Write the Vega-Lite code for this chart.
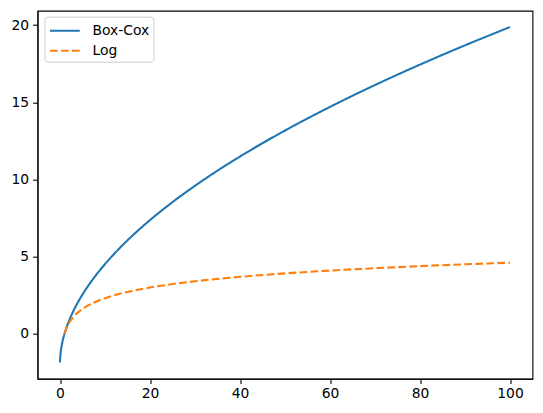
{
  "$schema": "https://vega.github.io/schema/vega-lite/v6.json",
  "autosize": {"type": "none"},
  "padding": {"left": 37.5, "top": 10.7, "right": 10, "bottom": 34},
  "width": 495,
  "height": 368,
  "background": "white",
  "config": {
    "view": {"stroke": "black", "strokeWidth": 1.1},
    "font": "DejaVu Sans",
    "axis": {
      "grid": false,
      "domainColor": "black",
      "domainWidth": 1.1,
      "tickColor": "black",
      "tickWidth": 1.1,
      "tickSize": 4.9,
      "labelColor": "black",
      "labelFontSize": 13.9,
      "labelFont": "DejaVu Sans",
      "titleFontSize": 0
    }
  },
  "data": {
    "values": [
      {"x": 0, "y": -1.85, "series": "Box-Cox"},
      {"x": 0.1, "y": -1.328, "series": "Box-Cox"},
      {"x": 0.25, "y": -0.981, "series": "Box-Cox"},
      {"x": 0.5, "y": -0.58, "series": "Box-Cox"},
      {"x": 1, "y": 0, "series": "Box-Cox"},
      {"x": 1.5, "y": 0.4525, "series": "Box-Cox"},
      {"x": 2, "y": 0.838, "series": "Box-Cox"},
      {"x": 3, "y": 1.492, "series": "Box-Cox"},
      {"x": 4, "y": 2.0495, "series": "Box-Cox"},
      {"x": 5, "y": 2.5445, "series": "Box-Cox"},
      {"x": 6, "y": 2.995, "series": "Box-Cox"},
      {"x": 8, "y": 3.8, "series": "Box-Cox"},
      {"x": 10, "y": 4.5155, "series": "Box-Cox"},
      {"x": 12.5, "y": 5.321, "series": "Box-Cox"},
      {"x": 15, "y": 6.055, "series": "Box-Cox"},
      {"x": 20, "y": 7.365, "series": "Box-Cox"},
      {"x": 25, "y": 8.529, "series": "Box-Cox"},
      {"x": 30, "y": 9.588, "series": "Box-Cox"},
      {"x": 35, "y": 10.568, "series": "Box-Cox"},
      {"x": 40, "y": 11.483, "series": "Box-Cox"},
      {"x": 45, "y": 12.348, "series": "Box-Cox"},
      {"x": 50, "y": 13.167, "series": "Box-Cox"},
      {"x": 55, "y": 13.949, "series": "Box-Cox"},
      {"x": 60, "y": 14.698, "series": "Box-Cox"},
      {"x": 65, "y": 15.42, "series": "Box-Cox"},
      {"x": 70, "y": 16.115, "series": "Box-Cox"},
      {"x": 75, "y": 16.788, "series": "Box-Cox"},
      {"x": 80, "y": 17.437, "series": "Box-Cox"},
      {"x": 85, "y": 18.071, "series": "Box-Cox"},
      {"x": 90, "y": 18.685, "series": "Box-Cox"},
      {"x": 95, "y": 19.285, "series": "Box-Cox"},
      {"x": 100, "y": 19.87, "series": "Box-Cox"},
      {"x": 1, "y": 0, "series": "Log"},
      {"x": 1.25, "y": 0.223, "series": "Log"},
      {"x": 1.5, "y": 0.405, "series": "Log"},
      {"x": 1.75, "y": 0.56, "series": "Log"},
      {"x": 2, "y": 0.693, "series": "Log"},
      {"x": 3, "y": 1.099, "series": "Log"},
      {"x": 4, "y": 1.386, "series": "Log"},
      {"x": 5, "y": 1.609, "series": "Log"},
      {"x": 6, "y": 1.792, "series": "Log"},
      {"x": 8, "y": 2.079, "series": "Log"},
      {"x": 10, "y": 2.303, "series": "Log"},
      {"x": 12.5, "y": 2.526, "series": "Log"},
      {"x": 15, "y": 2.708, "series": "Log"},
      {"x": 20, "y": 2.996, "series": "Log"},
      {"x": 25, "y": 3.219, "series": "Log"},
      {"x": 30, "y": 3.401, "series": "Log"},
      {"x": 35, "y": 3.555, "series": "Log"},
      {"x": 40, "y": 3.689, "series": "Log"},
      {"x": 45, "y": 3.807, "series": "Log"},
      {"x": 50, "y": 3.912, "series": "Log"},
      {"x": 55, "y": 4.007, "series": "Log"},
      {"x": 60, "y": 4.094, "series": "Log"},
      {"x": 65, "y": 4.174, "series": "Log"},
      {"x": 70, "y": 4.248, "series": "Log"},
      {"x": 75, "y": 4.317, "series": "Log"},
      {"x": 80, "y": 4.382, "series": "Log"},
      {"x": 85, "y": 4.443, "series": "Log"},
      {"x": 90, "y": 4.5, "series": "Log"},
      {"x": 95, "y": 4.554, "series": "Log"},
      {"x": 100, "y": 4.605, "series": "Log"}
    ]
  },
  "mark": {"type": "line", "strokeWidth": 2.08, "interpolate": "monotone"},
  "encoding": {
    "x": {
      "field": "x", "type": "quantitative",
      "scale": {"domain": [-5, 105], "nice": false, "zero": false},
      "axis": {"values": [0, 20, 40, 60, 80, 100], "title": null, "labelPadding": 3}
    },
    "y": {
      "field": "y", "type": "quantitative",
      "scale": {"domain": [-2.91, 20.93], "nice": false, "zero": false},
      "axis": {"values": [0, 5, 10, 15, 20], "title": null, "labelPadding": 4}
    },
    "color": {
      "field": "series", "type": "nominal",
      "scale": {"domain": ["Box-Cox", "Log"], "range": ["#1f77b4", "#ff7f0e"]},
      "legend": {
        "title": null,
        "orient": "none",
        "legendX": 7,
        "legendY": 6,
        "symbolType": "M-1,0H2.5",
        "symbolSize": 289,
        "symbolStrokeWidth": 2.08,
        "labelFontSize": 13.9,
        "labelFont": "DejaVu Sans",
        "labelColor": "black",
        "labelOffset": 24,
        "rowPadding": 3,
        "padding": 4,
        "strokeColor": "#cccccc",
        "fillColor": "white",
        "cornerRadius": 3
      }
    },
    "strokeDash": {
      "field": "series", "type": "nominal",
      "scale": {"domain": ["Box-Cox", "Log"], "range": [[1, 0], [7.7, 3.3]]},
      "legend": {
        "title": null,
        "orient": "none",
        "legendX": 7,
        "legendY": 6,
        "symbolType": "M-1,0H2.5",
        "symbolSize": 289,
        "symbolStrokeWidth": 2.08,
        "labelFontSize": 13.9,
        "labelFont": "DejaVu Sans",
        "labelColor": "black",
        "labelOffset": 24,
        "rowPadding": 3,
        "padding": 4,
        "strokeColor": "#cccccc",
        "fillColor": "white",
        "cornerRadius": 3
      }
    }
  }
}
